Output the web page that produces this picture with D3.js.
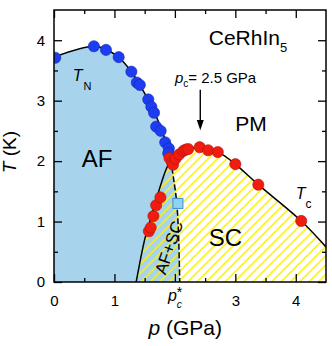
<!DOCTYPE html>
<html><head><meta charset="utf-8">
<script src="https://cdn.jsdelivr.net/npm/d3@7"></script>
<style>body{margin:0;background:#fff}svg{display:block}text{font-family:"Liberation Sans",Arial,sans-serif;fill:#000}</style>
</head><body><svg id="c" width="332" height="346"></svg>
<script>
// ---- data ----
const xTickValues=[0,1,2,3,4];
const xTickLabels=["0","1","","3","4"]; // 2 is labelled p_c*
const xMinorTicks=[0.5,1.5,2.5,3.5];
const yTickValues=[0,1,2,3,4];
const yTickLabels=["0","1","2","3","4"];
const yMinorTicks=[0.5,1.5,2.5,3.5];

// T_N points (blue)
const tnP=[0.02,0.66,0.86,1.07,1.28,1.37,1.42,1.56,1.61,1.655,1.69,1.765,1.84,1.90,1.89];
const tnT=[3.71,3.90,3.84,3.72,3.48,3.30,3.26,3.02,2.90,2.80,2.57,2.50,2.31,2.21,2.13];
// T_c points (red)
const tcP=[1.57,1.60,1.645,1.69,1.76,1.91,1.95,1.97,2.01,2.07,2.14,2.18,2.22,2.41,2.55,2.71,3.00,3.38,4.09];
const tcT=[0.84,0.90,1.09,1.27,1.40,2.05,1.98,1.94,2.04,2.11,2.17,2.19,2.20,2.23,2.18,2.15,1.95,1.61,1.01];
// open square
const sqP=[2.05], sqT=[1.30];

// boundary lines
const tnLineP=[0,0.66,0.9,1.1,1.3,1.5,1.65,1.78,1.87,1.93];
const tnLineT=[3.72,3.90,3.83,3.69,3.45,3.12,2.83,2.52,2.26,2.03];
const tcLineP=[1.93,2.0,2.1,2.2,2.4,2.6,2.8,3.0,3.38,4.09,4.5];
const tcLineT=[2.03,2.09,2.15,2.19,2.23,2.19,2.10,1.95,1.61,1.01,0.58];
const afLineP=[1.36,1.50,1.60,1.69,1.83,1.93];
const afLineT=[0,0.70,1.05,1.36,1.80,2.03];
const pcLineP=[1.93,1.98,2.03,2.06,2.08];
const pcLineT=[2.03,1.70,1.32,0.80,0];

// ---- layout ----
const svg=d3.select("#c");
const m={l:54,t:10,r:6,b:64};
const W=332-m.l-m.r, H=346-m.t-m.b;
const x=d3.scaleLinear().domain([0,4.5]).range([0,W]);
const y=d3.scaleLinear().domain([0,4.5]).range([H,0]);
const g=svg.append("g").attr("transform",`translate(${m.l},${m.t})`);

const defs=svg.append("defs");
defs.append("clipPath").attr("id","clip").append("rect").attr("width",W).attr("height",H);
const pat=defs.append("pattern").attr("id","hatch").attr("patternUnits","userSpaceOnUse")
  .attr("width",6.6).attr("height",10).attr("patternTransform","rotate(45)");
pat.append("line").attr("x1",3).attr("y1",0).attr("x2",3).attr("y2",10)
  .attr("stroke","#fff000").attr("stroke-width",1.5);

const zip=(ps,ts)=>ps.map((p,i)=>[x(p),y(ts[i])]);
const curve=d3.line().curve(d3.curveCatmullRom.alpha(0.5));
const tnPath=curve(zip(tnLineP,tnLineT));
const tcPath=curve(zip(tcLineP,tcLineT));
const afPath=curve(zip(afLineP,afLineT));
const pcPath=curve(zip(pcLineP,pcLineT));

const plot=g.append("g").attr("clip-path","url(#clip)");
// AF region
plot.append("path")
  .attr("d",`M${x(0)},${y(0)}`+tnPath.replace(/^M/,"L")+pcPath.replace(/^M/,"L")+"Z")
  .attr("fill","#a7d4ec");
// SC hatched region
plot.append("path")
  .attr("d",afPath+tcPath.replace(/^M/,"L")+`L${x(4.5)},${y(0)}Z`)
  .attr("fill","url(#hatch)");

// lines
[tnPath,tcPath,afPath].forEach(d=>plot.append("path").attr("d",d).attr("fill","none")
  .attr("stroke","#000").attr("stroke-width",1.5));
plot.append("path").attr("d",pcPath).attr("fill","none").attr("stroke","#000")
  .attr("stroke-width",1.5).attr("stroke-dasharray","6,2.5");

// points
plot.selectAll("circle.tn").data(tnP).join("circle").attr("class","tn")
  .attr("cx",d=>x(d)).attr("cy",(d,i)=>y(tnT[i])).attr("r",5.6)
  .attr("fill","#1e3cf0").attr("stroke","#1028b0").attr("stroke-width",0.6);
plot.selectAll("circle.tc").data(tcP).join("circle").attr("class","tc")
  .attr("cx",d=>x(d)).attr("cy",(d,i)=>y(tcT[i])).attr("r",5.6)
  .attr("fill","#f01c10").attr("stroke","#b01008").attr("stroke-width",0.6);
plot.selectAll("rect.sq").data(sqP).join("rect").attr("class","sq")
  .attr("x",d=>x(d)-5).attr("y",(d,i)=>y(sqT[i])-5).attr("width",10).attr("height",10)
  .attr("fill","#8fd2f2").attr("stroke","#3a90d0").attr("stroke-width",1);

// arrow
const ax=x(2.42);
g.append("line").attr("x1",ax).attr("x2",ax).attr("y1",y(3.18)).attr("y2",y(2.66))
  .attr("stroke","#000").attr("stroke-width",1.4);
g.append("path").attr("d",`M${ax-3.5},${y(2.68)}L${ax+3.5},${y(2.68)}L${ax},${y(2.51)}Z`).attr("fill","#000");

// axes (inward ticks)
function styleAx(sel){sel.select(".domain").remove();sel.selectAll("line").attr("stroke","#000").attr("stroke-width",1.3);
  sel.selectAll("text").style("font-size","15px").attr("fill","#000");}
g.append("g").attr("transform",`translate(0,${H})`)
  .call(d3.axisBottom(x).tickValues(xTickValues).tickSize(-8).tickPadding(13.4).tickFormat((d,i)=>xTickLabels[i])).call(styleAx);
g.append("g").attr("transform",`translate(0,${H})`)
  .call(d3.axisBottom(x).tickValues(xMinorTicks).tickSize(-4).tickFormat("")).call(styleAx);
g.append("g").call(d3.axisTop(x).tickValues(xTickValues).tickSize(-8).tickFormat("")).call(styleAx);
g.append("g").call(d3.axisTop(x).tickValues(xMinorTicks).tickSize(-4).tickFormat("")).call(styleAx);
g.append("g").call(d3.axisLeft(y).tickValues(yTickValues).tickSize(-8).tickPadding(9).tickFormat((d,i)=>yTickLabels[i])).call(styleAx);
g.append("g").call(d3.axisLeft(y).tickValues(yMinorTicks).tickSize(-4).tickFormat("")).call(styleAx);
g.append("g").attr("transform",`translate(${W},0)`).call(d3.axisRight(y).tickValues(yTickValues).tickSize(-8).tickFormat("")).call(styleAx);
g.append("g").attr("transform",`translate(${W},0)`).call(d3.axisRight(y).tickValues(yMinorTicks).tickSize(-4).tickFormat("")).call(styleAx);
g.append("rect").attr("width",W).attr("height",H).attr("fill","none").attr("stroke","#000").attr("stroke-width",1.5);

// p_c* tick label
const pcl=g.append("text").attr("x",x(2)-7).attr("y",H+19).style("font-size","16px");
pcl.append("tspan").text("p").style("font-style","italic");
pcl.append("tspan").text("c").style("font-style","italic").style("font-size","10px").attr("dy",7).attr("dx",0);
pcl.append("tspan").text("*").style("font-size","14px").attr("dx",-5).attr("dy",-11);

// axis titles
const xt=g.append("text").attr("x",x(2.17)).attr("y",H+53).attr("text-anchor","middle").style("font-size","21px");
xt.append("tspan").text("p").style("font-style","italic");
xt.append("tspan").text(" (GPa)");
const yt=svg.append("text").attr("transform",`translate(16,${m.t+y(2.15)}) rotate(-90)`).attr("text-anchor","middle").style("font-size","19px");
yt.append("tspan").text("T").style("font-style","italic");
yt.append("tspan").text(" (K)");

// in-plot labels
const ce=g.append("text").attr("x",x(2.56)).attr("y",y(3.92)).style("font-size","21px");
ce.append("tspan").text("CeRhIn");
ce.append("tspan").text("5").style("font-size","13px").attr("dy",7);

const pc=g.append("text").attr("x",x(2.0)).attr("y",y(3.29)).style("font-size","15px");
pc.append("tspan").text("p").style("font-style","italic");
pc.append("tspan").text("c").style("font-size","10px").attr("dy",4);
pc.append("tspan").text("= 2.5 GPa").attr("dy",-4);

g.append("text").attr("x",x(3.0)).attr("y",y(2.5)).style("font-size","21px").text("PM");
g.append("text").attr("x",x(0.46)).attr("y",y(1.91)).style("font-size","24px").text("AF");
g.append("text").attr("x",x(2.56)).attr("y",y(0.6)).style("font-size","24px").text("SC");

const tn=g.append("text").attr("x",x(0.31)).attr("y",y(3.32)).style("font-size","16px");
tn.append("tspan").text("T").style("font-style","italic");
tn.append("tspan").text("N").style("font-size","11px").attr("dy",9).attr("dx",1);

const tcl=g.append("text").attr("x",x(4.0)).attr("y",y(1.37)).style("font-size","16px");
tcl.append("tspan").text("T").style("font-style","italic");
tcl.append("tspan").text("c").style("font-size","12px").attr("dy",9).attr("dx",0);

g.append("text").attr("transform",`translate(${x(1.8)+6},${y(0.57)}) rotate(-71)`)
  .attr("text-anchor","middle").attr("dy","0.35em").style("font-size","17px").text("AF+SC");
</script></body></html>
